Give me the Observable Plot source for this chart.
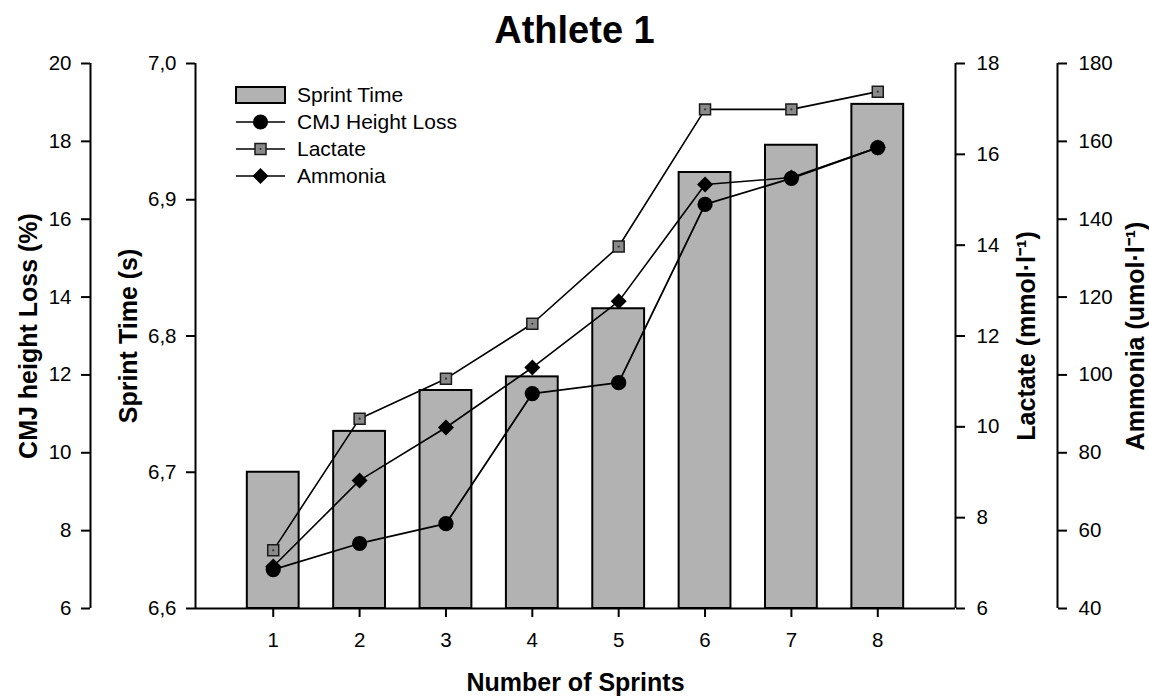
<!DOCTYPE html>
<html>
<head>
<meta charset="utf-8">
<script src="https://cdn.jsdelivr.net/npm/d3@7"></script>
<script src="https://cdn.jsdelivr.net/npm/@observablehq/plot@0.6"></script>
<style>
  html, body { margin: 0; padding: 0; background: #fff; }
  #wrap { width: 1149px; position: relative; font-family: "Liberation Sans", Arial, Helvetica, sans-serif; }
  #title { height: 52px; box-sizing: border-box; padding-top: 11px; line-height: 1; text-align: center; font-weight: bold; font-size: 38px; color: #000; }
</style>
</head>
<body>
<div id="wrap">
  <div id="title">Athlete 1</div>
  <div id="chart"></div>
</div>
<script>
// Sprint-by-sprint measurements for one athlete
const sprints    = [1, 2, 3, 4, 5, 6, 7, 8];
const sprintTime = [6.70, 6.73, 6.76, 6.77, 6.82, 6.92, 6.94, 6.97];   // s
const cmjLoss    = [7.0, 7.67, 8.18, 11.52, 11.8, 16.38, 17.05, 17.84]; // %
const lactate    = [7.28, 10.18, 11.06, 12.27, 13.97, 16.99, 16.99, 17.38]; // mmol/l
const ammonia    = [50.8, 72.9, 86.5, 101.9, 118.9, 148.9, 150.7, 158.4]; // umol/l

// Tick values of the four vertical axes
const timeTicks    = [6.6, 6.7, 6.8, 6.9, 7.0];
const cmjTicks     = [6, 8, 10, 12, 14, 16, 18, 20];
const lactateTicks = [6, 8, 10, 12, 14, 16, 18];
const ammoniaTicks = [40, 60, 80, 100, 120, 140, 160, 180];

const legendLabels = ["Sprint Time", "CMJ Height Loss", "Lactate", "Ammonia"];

// The sprint-time scale is the chart's y scale; the other series are mapped onto it
const timeDomain = [6.6, 7.0];
const cmjToY = d3.scaleLinear([6, 20], timeDomain);
const lacToY = d3.scaleLinear([6, 18], timeDomain);
const ammToY = d3.scaleLinear([40, 180], timeDomain);

const rows = sprints.map((n, i) => ({
  n, time: sprintTime[i], cmj: cmjLoss[i], lac: lactate[i], amm: ammonia[i]
}));

const FONT = '"Liberation Sans", Arial, Helvetica, sans-serif';
const commaFmt = d => d3.format(".1f")(d).replace(".", ",");
const xDomain = [0.1, 8.9];

const axisOpts = {tickSize: 9, tickPadding: 10, strokeWidth: 2, fontSize: 20.5, label: null};
const titleOpts = {text: d => d, rotate: -90, textAnchor: "middle", lineAnchor: "middle", fontWeight: "bold", fontSize: 25};

const chart = Plot.plot({
  width: 1149,
  height: 645,
  marginLeft: 195,
  marginRight: 194,
  marginTop: 11,
  marginBottom: 89,
  style: {fontFamily: FONT, fontSize: "20px", color: "#000", background: "#fff", overflow: "visible"},
  x: {type: "linear", domain: xDomain, axis: null},
  y: {domain: timeDomain, axis: null},
  marks: [
    // bars: sprint time
    Plot.rect(rows, {
      x1: d => d.n - 0.3, x2: d => d.n + 0.3, y1: timeDomain[0], y2: "time",
      fill: "#b2b2b2", stroke: "#000", strokeWidth: 2
    }),

    // axis lines
    Plot.ruleY([timeDomain[0]], {stroke: "#000", strokeWidth: 2}),
    Plot.ruleX([xDomain[0]], {y1: timeDomain[0], y2: timeDomain[1], stroke: "#000", strokeWidth: 2}),
    Plot.ruleX([xDomain[0]], {y1: timeDomain[0], y2: timeDomain[1], dx: -105, stroke: "#000", strokeWidth: 2}),
    Plot.ruleX([xDomain[1]], {y1: timeDomain[0], y2: timeDomain[1], stroke: "#000", strokeWidth: 2}),
    Plot.ruleX([xDomain[1]], {y1: timeDomain[0], y2: timeDomain[1], dx: 102, stroke: "#000", strokeWidth: 2}),

    // x axis
    Plot.axisX(sprints, {anchor: "bottom", tickSize: 9, tickPadding: 15, strokeWidth: 2, fontSize: 20.5, label: null}),

    // left axes
    Plot.axisY(timeTicks, {anchor: "left", ...axisOpts, text: d => commaFmt(d)}),
    Plot.axisY(cmjTicks.map(v => cmjToY(v)), {anchor: "left", dx: -105, ...axisOpts, text: (d, i) => String(cmjTicks[i])}),
    // right axes
    Plot.axisY(lactateTicks.map(v => lacToY(v)), {anchor: "right", ...axisOpts, tickPadding: 12, text: (d, i) => String(lactateTicks[i])}),
    Plot.axisY(ammoniaTicks.map(v => ammToY(v)), {anchor: "right", dx: 102, ...axisOpts, tickPadding: 12, text: (d, i) => String(ammoniaTicks[i])}),

    // axis titles
    Plot.text(["CMJ height Loss (%)"], {...titleOpts, frameAnchor: "left", dx: -167}),
    Plot.text(["Sprint Time (s)"], {...titleOpts, frameAnchor: "left", dx: -67}),
    Plot.text(["Lactate (mmol·l⁻¹)"], {...titleOpts, frameAnchor: "right", dx: 71}),
    Plot.text(["Ammonia (umol·l⁻¹)"], {...titleOpts, frameAnchor: "right", dx: 180}),
    Plot.text(["Number of Sprints"], {text: d => d, frameAnchor: "bottom", dy: 74, textAnchor: "middle", lineAnchor: "middle", fontWeight: "bold", fontSize: 25}),

    // lactate
    Plot.line(rows, {x: "n", y: d => lacToY(d.lac), stroke: "#000", strokeWidth: 1.6}),
    Plot.dot(rows, {x: "n", y: d => lacToY(d.lac), symbol: "square", r: 6.2, fill: "#8a8a8a", stroke: "#1a1a1a", strokeWidth: 1.5}),
    Plot.dot(rows, {x: "n", y: d => lacToY(d.lac), r: 1.1, fill: "#333"}),
    // ammonia
    Plot.line(rows, {x: "n", y: d => ammToY(d.amm), stroke: "#000", strokeWidth: 1.6}),
    Plot.dot(rows, {x: "n", y: d => ammToY(d.amm), symbol: "diamond2", r: 7.2, fill: "#000"}),
    // CMJ height loss
    Plot.line(rows, {x: "n", y: d => cmjToY(d.cmj), stroke: "#000", strokeWidth: 1.8}),
    Plot.dot(rows, {x: "n", y: d => cmjToY(d.cmj), symbol: "circle", r: 7.6, fill: "#000"})
  ]
});

document.getElementById("chart").appendChild(chart);

// Legend in the upper-left corner of the plotting area
const svg = d3.select(chart);
const lg = svg.append("g").attr("transform", "translate(236,43)");
const rowGap = 27;
legendLabels.forEach((label, i) => {
  const g = lg.append("g").attr("transform", `translate(0,${i * rowGap})`);
  if (i === 0) {
    g.append("rect").attr("x", 0).attr("y", -8).attr("width", 49).attr("height", 16)
      .attr("fill", "#b2b2b2").attr("stroke", "#000").attr("stroke-width", 2);
  } else {
    g.append("line").attr("x1", 0).attr("x2", 49).attr("y1", 0).attr("y2", 0)
      .attr("stroke", "#000").attr("stroke-width", 1.6);
    if (i === 1) {
      g.append("circle").attr("cx", 24.5).attr("cy", 0).attr("r", 7.6).attr("fill", "#000");
    } else if (i === 2) {
      g.append("rect").attr("x", 24.5 - 5.5).attr("y", -5.5).attr("width", 11).attr("height", 11)
        .attr("fill", "#8a8a8a").attr("stroke", "#1a1a1a").attr("stroke-width", 1.5);
      g.append("circle").attr("cx", 24.5).attr("cy", 0).attr("r", 1.1).attr("fill", "#333");
    } else {
      g.append("path").attr("transform", "translate(24.5,0)")
        .attr("d", d3.symbol(d3.symbolDiamond2, Math.PI * 7.2 * 7.2)()).attr("fill", "#000");
    }
  }
  g.append("text").attr("x", 61).attr("y", 0).attr("dy", "0.35em")
    .attr("text-anchor", "start")
    .attr("font-size", 21).attr("font-family", FONT).attr("fill", "#000").text(label);
});
</script>
</body>
</html>
